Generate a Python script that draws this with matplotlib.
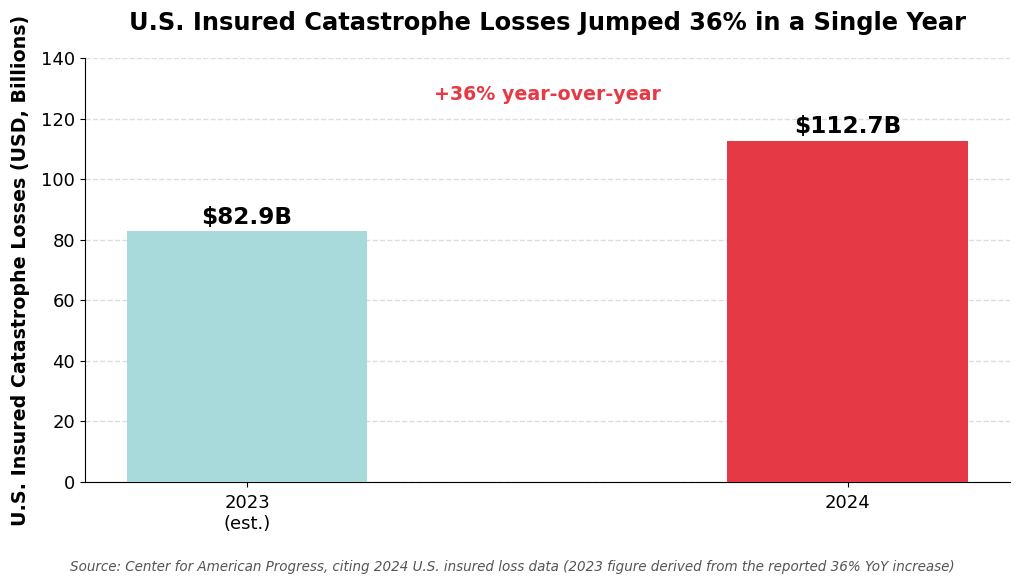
import matplotlib
matplotlib.use('Agg')
import matplotlib.pyplot as plt

years = ['2023\n(est.)', '2024']
losses = [82.9, 112.7]
bar_labels = ['$82.9B', '$112.7B']
colors = ['#A8DADC', '#E63946']

fig = plt.figure(figsize=(10.24, 5.87), dpi=100)
ax = fig.add_axes([0.083, 0.179, 0.903, 0.722])

x = range(len(years))
bars = ax.bar(x, losses, width=0.4, color=colors, zorder=3)
for b, lab in zip(bars, bar_labels):
    ax.text(b.get_x() + b.get_width() / 2, b.get_height() + 0.8, lab.replace('$', r'\$'),
            ha='center', va='bottom', fontsize=16.7, fontweight='bold')

ax.text(0.5, 128, '+36% year-over-year', ha='center', va='center',
        fontsize=13.7, fontweight='bold', color='#E63946')

ax.set_xticks(list(x))
ax.set_xticklabels(years, fontsize=13)
ax.tick_params(axis='x', pad=5)
ax.set_ylim(0, 140)
ax.set_yticks(range(0, 141, 20))
ax.tick_params(axis='y', labelsize=13)
ax.set_ylabel('U.S. Insured Catastrophe Losses (USD, Billions)', fontsize=13.7,
              fontweight='bold', labelpad=8)
ax.set_title('U.S. Insured Catastrophe Losses Jumped 36% in a Single Year',
             fontsize=17.4, fontweight='bold', pad=20)
ax.grid(axis='y', linestyle='--', color='#dddddd', linewidth=1, zorder=0)
ax.spines['top'].set_visible(False)
ax.spines['right'].set_visible(False)

fig.text(0.5, 0.028, 'Source: Center for American Progress, citing 2024 U.S. insured loss data '
         '(2023 figure derived from the reported 36% YoY increase)',
         ha='center', fontsize=9.75, style='italic', color='#555555')

fig.savefig('out.png', dpi=100)
